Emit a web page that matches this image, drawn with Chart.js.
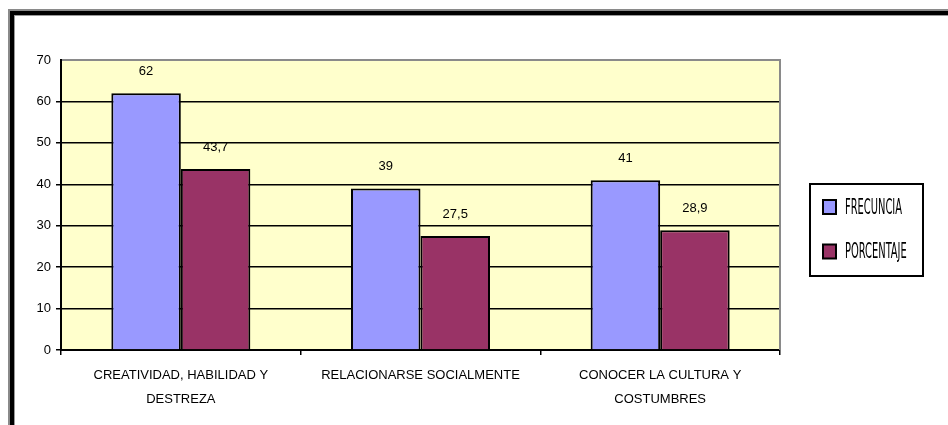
<!DOCTYPE html>
<html>
<head>
<meta charset="utf-8">
<script src="https://cdn.jsdelivr.net/npm/chart.js@4/dist/chart.umd.min.js"></script>
<style>
  html, body { margin: 0; padding: 0; background: #fff; overflow: hidden; }
  #wrap { position: relative; width: 948px; height: 425px; }
  .f1 { position: absolute; left: 8px; top: 9px; width: 1000px; height: 600px; border-left: 2px solid #8a8a8a; border-top: 2px solid #8a8a8a; }
  .f2 { position: absolute; left: 10px; top: 11px; width: 1000px; height: 600px; border-left: 4px solid #000; border-top: 4px solid #000; }
  .f3 { position: absolute; left: 14px; top: 15px; width: 1000px; height: 600px; border-left: 1px solid #9a9a9a; border-top: 1px solid #9a9a9a; }
  canvas { position: absolute; left: 0; top: 0; }
</style>
</head>
<body>
<div id="wrap">
  <div class="f1"></div><div class="f2"></div><div class="f3"></div>
  <canvas id="c" width="948" height="425"></canvas>
</div>
<script>
const categories = [
  ["CREATIVIDAD, HABILIDAD Y", "DESTREZA"],
  ["RELACIONARSE SOCIALMENTE"],
  ["CONOCER LA CULTURA Y", "COSTUMBRES"]
];
const seriesNames = ["FRECUNCIA", "PORCENTAJE"];
const frecuencia = [62, 39, 41];
const porcentaje = [43.7, 27.5, 28.9];
const yTicks = [0, 10, 20, 30, 40, 50, 60, 70];
const colors = ["#9999FF", "#993366"];

const FONT = "'Liberation Sans', Arial, sans-serif";

const bgPlugin = {
  id: 'bg',
  beforeDraw(chart) {
    const { ctx, chartArea: a } = chart;
    ctx.save();
    ctx.fillStyle = '#FFFFCC';
    ctx.fillRect(a.left, a.top, a.right - a.left, a.bottom - a.top);
    ctx.restore();
  },
  afterDatasetsDraw(chart) {
    const { ctx, chartArea: a } = chart;
    ctx.save();
    // top and right border of plot
    ctx.strokeStyle = '#8a8a8a';
    ctx.lineWidth = 2;
    ctx.beginPath();
    ctx.moveTo(a.left + 1, a.top);
    ctx.lineTo(a.right, a.top);
    ctx.lineTo(a.right, a.bottom);
    ctx.stroke();
    // value labels
    ctx.font = '13px ' + FONT;
    ctx.fillStyle = '#000';
    ctx.textAlign = 'center';
    ctx.textBaseline = 'middle';
    chart.data.datasets.forEach((ds, i) => {
      const meta = chart.getDatasetMeta(i);
      meta.data.forEach((bar, j) => {
        const v = ds.data[j];
        ctx.fillText(String(v).replace('.', ','), bar.x, bar.y - 22);
      });
    });
    // legend
    const lx = 810, ly = 184, lw = 113, lh = 92;
    ctx.fillStyle = '#fff';
    ctx.fillRect(lx, ly, lw, lh);
    ctx.strokeStyle = '#000';
    ctx.lineWidth = 2;
    ctx.strokeRect(lx, ly, lw, lh);
    chart.data.datasets.forEach((ds, i) => {
      const sy = 200 + i * 44.5;
      ctx.fillStyle = ds.backgroundColor;
      ctx.fillRect(823, sy, 13, 14);
      ctx.lineWidth = 2;
      ctx.strokeRect(823, sy, 13, 14);
      ctx.save();
      ctx.translate(845, sy + 7);
      ctx.scale(0.5, 1);
      ctx.font = '22px "Liberation Sans Narrow", "DejaVu Sans Condensed", ' + FONT;
      ctx.fillStyle = '#000';
      ctx.textAlign = 'left';
      ctx.textBaseline = 'middle';
      ctx.fillText(ds.label, 0, 1);
      ctx.restore();
    });
    ctx.restore();
  }
};

new Chart(document.getElementById('c'), {
  type: 'bar',
  data: {
    labels: categories,
    datasets: [
      { label: seriesNames[0], data: frecuencia, backgroundColor: colors[0], borderColor: '#000', borderWidth: 2, borderSkipped: 'bottom' },
      { label: seriesNames[1], data: porcentaje, backgroundColor: colors[1], borderColor: '#000', borderWidth: 2, borderSkipped: 'bottom' }
    ]
  },
  options: {
    responsive: false,
    animation: false,
    events: [],
    layout: { padding: { left: 0, right: 168, top: 60, bottom: 0 } },
    plugins: { legend: { display: false }, tooltip: { enabled: false } },
    datasets: { bar: { barPercentage: 1.0, categoryPercentage: 0.58 } },
    scales: {
      x: {
        offset: true,
        grid: { offset: true, drawOnChartArea: false, drawTicks: true, tickLength: 5, color: '#000', lineWidth: 1.5 },
        border: { display: true, color: '#000', width: 2 },
        ticks: { color: '#000', font: { family: FONT, size: 13, lineHeight: 1.85 }, padding: 8, maxRotation: 0, autoSkip: false },
        afterFit(s) { s.height = 425 - 350; }
      },
      y: {
        min: 0, max: 70,
        afterBuildTicks(s) { s.ticks = yTicks.map(v => ({ value: v })); },
        grid: {
          color: (c) => (c.tick && c.tick.value === 70) ? 'rgba(0,0,0,0)' : '#000',
          lineWidth: 1.5,
          tickLength: 5,
          drawTicks: true
        },
        border: { display: true, color: '#000', width: 2 },
        ticks: { color: '#000', font: { family: FONT, size: 13 }, padding: 5 },
        afterFit(s) { s.width = 61; }
      }
    }
  },
  plugins: [bgPlugin]
});
</script>
</body>
</html>
